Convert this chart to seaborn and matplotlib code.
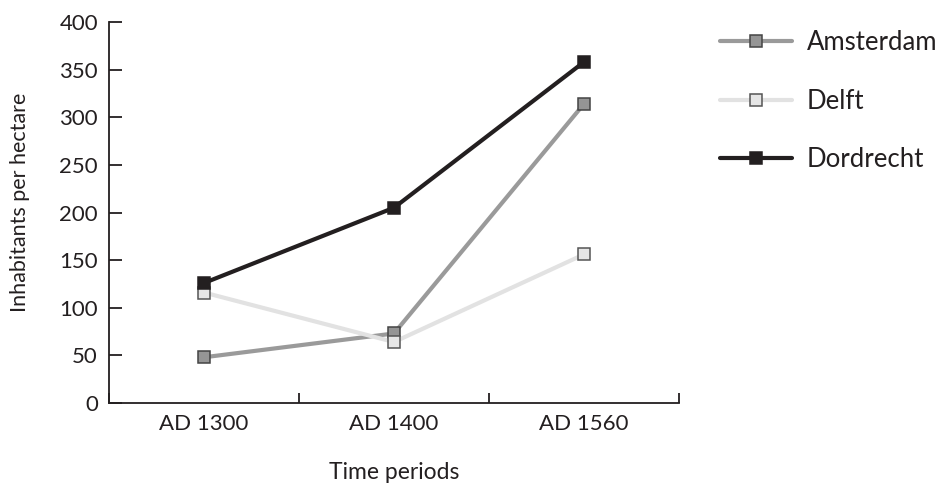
import matplotlib
matplotlib.use("Agg")
import matplotlib.pyplot as plt
import seaborn as sns
import pandas as pd
from matplotlib.lines import Line2D

periods = ["AD 1300", "AD 1400", "AD 1560"]
amsterdam = [48, 73, 314]
delft = [116, 64, 156]
dordrecht = [126, 205, 358]
cities = ["Amsterdam", "Delft", "Dordrecht"]
y_ticks = [0, 50, 100, 150, 200, 250, 300, 350, 400]

sns.set_theme(style="white")
plt.rcParams['font.family'] = ['Lato', 'DejaVu Sans']

rows = []
for city, vals in zip(cities, [amsterdam, delft, dordrecht]):
    for i, (p, v) in enumerate(zip(periods, vals)):
        rows.append({"pos": i, "period": p, "value": v, "city": city})
df = pd.DataFrame(rows)

dark = "#231f20"
line_colors = {"Amsterdam": "#9a9a9a", "Delft": "#e2e2e2", "Dordrecht": dark}
face_colors = {"Amsterdam": "#959595", "Delft": "#e6e6e6", "Dordrecht": dark}
edge_colors = {"Amsterdam": "#444444", "Delft": "#555555", "Dordrecht": dark}

fig = plt.figure(figsize=(9.53, 4.87), dpi=100)
ax = fig.add_axes([0.1144, 0.1725, 0.598, 0.7823])

for city in cities:
    sub = df[df.city == city]
    sns.lineplot(data=sub, x="pos", y="value", ax=ax, color=line_colors[city],
                 linewidth=3, marker="s", markersize=8.5,
                 markerfacecolor=face_colors[city], markeredgecolor=edge_colors[city],
                 markeredgewidth=1.1, legend=False)

ax.set_xlim(-0.5, 2.5)
ax.set_ylim(0, 400)
ax.set_yticks(y_ticks)
ax.set_yticklabels([str(t) for t in y_ticks], fontsize=16, color=dark)
ax.set_xticks([0, 1, 2])
ax.set_xticklabels(periods, fontsize=16, color=dark)
ax.set_xticks([-0.5, 0.5, 1.5, 2.5], minor=True)
ax.tick_params(axis="x", which="major", length=0, pad=8)
ax.tick_params(axis="x", which="minor", direction="in", length=7, width=1.3, color=dark, bottom=True)
ax.tick_params(axis="y", direction="in", length=9, width=1.3, color=dark, left=True, pad=8)

for s in ["top", "right"]:
    ax.spines[s].set_visible(False)
for s in ["left", "bottom"]:
    ax.spines[s].set_color(dark)
    ax.spines[s].set_linewidth(1.3)

ax.set_xlabel("Time periods", fontsize=16.5, color=dark)
ax.set_ylabel("Inhabitants per hectare", fontsize=15.5, color=dark)
ax.xaxis.set_label_coords(0.5, -0.183)
ax.xaxis.label.set_va("center")
ax.yaxis.set_label_coords(-0.156, 0.527)
ax.yaxis.label.set_va("center")

handles = [Line2D([0], [0], color=line_colors[c], linewidth=3, marker="s", markersize=8.5,
                  markerfacecolor=face_colors[c], markeredgecolor=edge_colors[c],
                  markeredgewidth=1.1) for c in cities]
leg = fig.legend(handles, cities, loc="upper left", bbox_to_anchor=(0.737, 0.975),
                 frameon=False, fontsize=18.5, handlelength=2.8, labelspacing=1.3,
                 handletextpad=0.55, borderpad=0.2)
for t in leg.get_texts():
    t.set_color(dark)

fig.savefig("out.png", dpi=100)
